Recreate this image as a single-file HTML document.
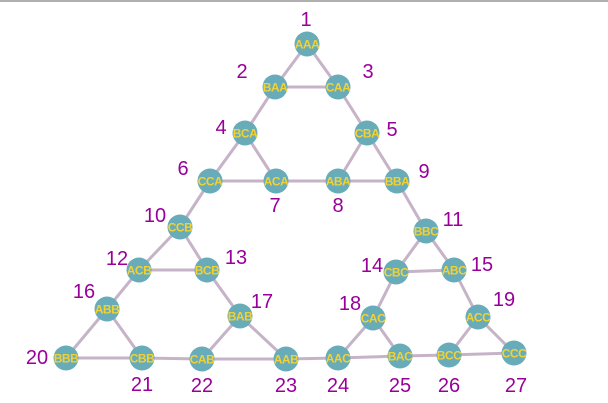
<!DOCTYPE html>
<html><head><meta charset="utf-8"><style>
html,body{margin:0;padding:0;background:#fff;width:608px;height:403px;overflow:hidden}
svg{display:block}
.lbl{font-family:"Liberation Sans",sans-serif;font-size:20px;fill:#990099;text-anchor:middle}
.nt{font-family:"Liberation Sans",sans-serif;font-size:12px;font-weight:bold;fill:#f2d233;text-anchor:middle;letter-spacing:-0.5px}
</style></head><body>
<svg id="chart" width="608" height="403">
<rect x="0" y="0" width="608" height="2" fill="#b0b0b0"/>
<g id="edges"></g><g id="nodes"></g><g id="labels"></g>
</svg>
<script>
const nodeNames=["AAA","BAA","CAA","BCA","CBA","CCA","ACA","ABA","BBA","CCB","BBC","ACB","BCB","CBC","ABC","ABB","BAB","CAC","ACC","BBB","CBB","CAB","AAB","AAC","BAC","BCC","CCC"];
const nodeX=[307,275,338,245,367,210,276,338,397,180,426,139,207,396,454,107,240,373,478,66,142,202,286,338,400,449,514];
const nodeY=[44,87,87,133,133,181,181,181,181,227,231,270,270,272,270,309,316,318,317,358,358,359,359,358,356,355,353];
const labelX=[306,242,368,221,392,183,275,338,424,155,453,117,236,372,482,84,262,350,504,37,142,202,286,338,400,449,516];
const labelY=[26,78,78,134,136,175,212,212,178,222,226,265,264,272,271,298,308,310,306,364,391,392,392,392,392,392,392];
const edgeList=[[1,2],[1,3],[2,3],[2,4],[3,5],[4,6],[4,7],[6,7],[5,8],[5,9],[8,9],[7,8],[6,10],[9,11],[10,12],[10,13],[12,13],[11,14],[11,15],[14,15],[12,16],[13,17],[14,18],[15,19],[16,20],[16,21],[20,21],[17,22],[17,23],[22,23],[18,24],[18,25],[24,25],[19,26],[19,27],[26,27],[21,22],[23,24],[25,26]];
const NS="http://www.w3.org/2000/svg";
const eg=document.getElementById('edges'),ng=document.getElementById('nodes'),lg=document.getElementById('labels');
edgeList.forEach(([a,b])=>{
 const l=document.createElementNS(NS,'line');
 l.setAttribute('x1',nodeX[a-1]);l.setAttribute('y1',nodeY[a-1]);
 l.setAttribute('x2',nodeX[b-1]);l.setAttribute('y2',nodeY[b-1]);
 l.setAttribute('stroke','#c6b3c8');l.setAttribute('stroke-width','3');
 
 
 eg.appendChild(l);
});
nodeNames.forEach((n,i)=>{
 const g=document.createElementNS(NS,'g');
 
 
 const c=document.createElementNS(NS,'circle');
 c.setAttribute('cx',nodeX[i]);c.setAttribute('cy',nodeY[i]);c.setAttribute('r','12.5');
 c.setAttribute('fill','#68abb9');
 g.appendChild(c);
 const t=document.createElementNS(NS,'text');
 t.setAttribute('x',nodeX[i]);t.setAttribute('y',nodeY[i]+4.5);t.setAttribute('class','nt');
 t.textContent=n;g.appendChild(t);
 ng.appendChild(g);
 const lt=document.createElementNS(NS,'text');
 lt.setAttribute('x',labelX[i]);lt.setAttribute('y',labelY[i]);lt.setAttribute('class','lbl');
 
 
 lt.textContent=String(i+1);lg.appendChild(lt);
});
</script>
</body></html>
